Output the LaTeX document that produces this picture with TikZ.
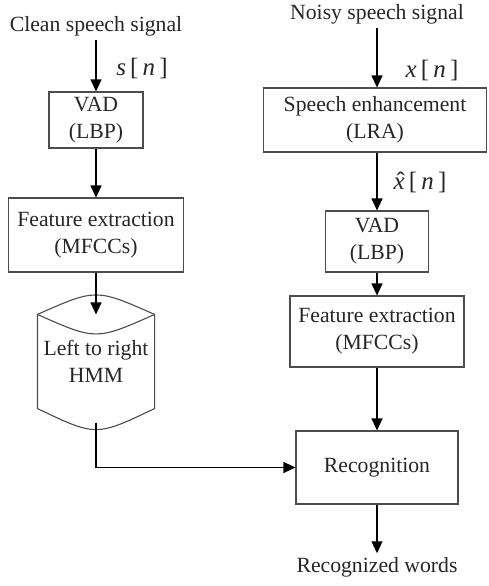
\documentclass[tikz,border=0pt]{standalone}
\usepackage{fontspec}
\setmainfont{Liberation Serif}
\usetikzlibrary{arrows.meta,calc}

\begin{document}
\begin{tikzpicture}[x=1pt,y=-1pt,line width=1.1pt,
                    >={Triangle[length=12pt,width=11pt]},
                    every node/.style={font=\fontsize{21.7}{27}\selectfont,text=black!85},
                    block/.style={draw=black!70,rectangle,align=center,inner sep=0pt},
                    sig/.style={font=\fontsize{25}{30}\selectfont}]
\useasboundingbox (0,0) rectangle (488,586);

  % left branch: training
  \node (clean) at (96,26) {Clean speech signal};
  \node (vad1) [block,minimum width=94pt,minimum height=56pt] at (96,120) {VAD\\(LBP)};
  \node (feat1) [block,minimum width=175pt,minimum height=74pt] at (96,235) {Feature extraction\\(MFCCs)};
  \node (hmm) [align=center,minimum width=116pt,minimum height=93pt,inner sep=0pt] at (96,361.5) {Left to right\\HMM};
  \coordinate (hmmout) at ($(hmm.south)+(0,14)$);
  \node[sig] (sn) at (142,68) {\textit{s}\,[\,\textit{n}\,]};

  % right branch: test
  \node (noisy) at (377,14) {Noisy speech signal};
  \node (enh) [block,minimum width=223pt,minimum height=64pt] at (375,120) {Speech enhancement\\(LRA)};
  \node (vad2) [block,minimum width=103pt,minimum height=61pt] at (377,241.5) {VAD\\(LBP)};
  \node (feat2) [block,minimum width=174pt,minimum height=71pt] at (377,331.5) {Feature extraction\\(MFCCs)};
  \node (rec) [block,minimum width=162pt,minimum height=73pt] at (377,467.5) {Recognition};
  \node (words) at (377,567) {Recognized words};
  \node[sig] (xn) at (432,70) {\textit{x}\,[\,\textit{n}\,]};
  \node[sig] (xhn) at (420,182) {\ooalign{\textit{x}\cr\hidewidth\kern0.12em\char"02C6\hidewidth\cr}\,[\,\textit{n}\,]};
  \coordinate (enhout) at (enh.south -| vad2.north);

  % drum outline of the model
  \draw[draw=black!70] (hmm.north west) .. controls ($(hmm.north)+(0,-26)$) .. (hmm.north east)
        -- (hmm.south east) .. controls ($(hmm.south)+(0,28)$) .. (hmm.south west) -- cycle;
  \draw[draw=black!70] (hmm.north west) .. controls ($(hmm.north)+(0,26)$) .. (hmm.north east);

  \path[->]
    (clean) edge (vad1)
    (vad1) edge (feat1)
    (feat1) edge (hmm)
    (noisy) edge (noisy |- enh.north)
    (enhout) edge (vad2)
    (vad2) edge (feat2)
    (feat2) edge (rec)
    (rec) edge (words);
  \draw[->] (hmmout) |- (rec);

\end{tikzpicture}
\end{document}
